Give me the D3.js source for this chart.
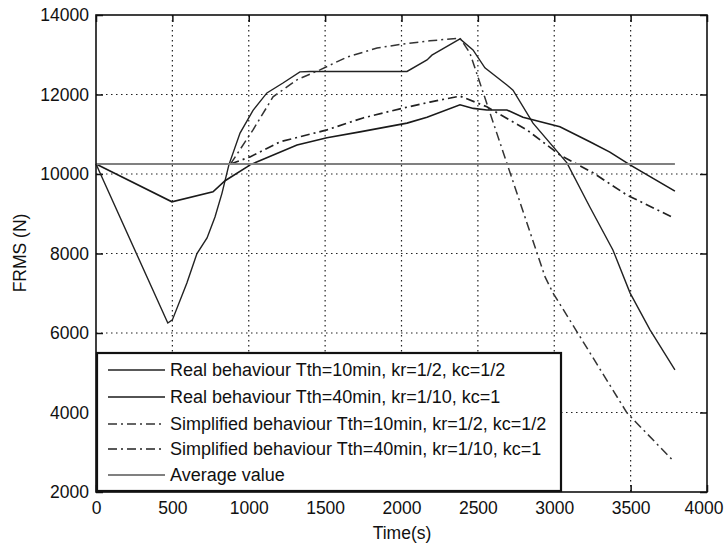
<!DOCTYPE html>
<html>
<head>
<meta charset="utf-8">
<script src="https://cdn.jsdelivr.net/npm/d3@7"></script>
<style>
  body { margin: 0; background: #fff; }
  svg { display: block; font-family: "Liberation Sans", Arial, sans-serif; }
</style>
</head>
<body>
<div id="chart"></div>
<script>
// time (s) and FRMS (N)
var timeReal10 = [0, 470, 500, 595, 661, 727, 779, 825, 870, 943, 1028, 1119, 1224, 1335, 1400, 2036, 2167, 2199, 2383, 2468, 2546, 2690, 2730, 2861, 3083, 3233, 3384, 3496, 3627, 3790];
var frmsReal10 = [10250, 6250, 6330, 7260, 8000, 8390, 8920, 9520, 10230, 11030, 11600, 12040, 12290, 12570, 12580, 12580, 12870, 12990, 13400, 13120, 12670, 12240, 12110, 11280, 10280, 9170, 8090, 7010, 6080, 5070];

var timeReal40 = [0, 497, 766, 845, 989, 1008, 1316, 1512, 1728, 2036, 2167, 2383, 2470, 2559, 2690, 2795, 3037, 3233, 3364, 3496, 3790];
var frmsReal40 = [10250, 9300, 9550, 9830, 10180, 10230, 10730, 10910, 11060, 11280, 11430, 11740, 11650, 11610, 11610, 11430, 11190, 10810, 10550, 10230, 9570];

var timeSimp10 = [880, 1028, 1159, 1316, 1466, 1643, 1840, 2010, 2186, 2383, 2448, 2940, 2992, 3149, 3476, 3780];
var frmsSimp10 = [10250, 11110, 11940, 12370, 12620, 12940, 13170, 13270, 13350, 13420, 13040, 7410, 7006, 6030, 3990, 2780];

var timeSimp40 = [880, 1008, 1205, 1512, 1748, 1990, 2186, 2383, 2559, 2821, 3037, 3254, 3476, 3780];
var frmsSimp40 = [10250, 10430, 10810, 11110, 11410, 11640, 11810, 11960, 11690, 11110, 10480, 10030, 9470, 8900];

var timeAvg = [0, 3790];
var frmsAvg = [10250, 10250];

var xTicks = [0, 500, 1000, 1500, 2000, 2500, 3000, 3500, 4000];
var yTicks = [2000, 4000, 6000, 8000, 10000, 12000, 14000];

var legendLabels = [
  "Real behaviour Tth=10min, kr=1/2, kc=1/2",
  "Real behaviour Tth=40min, kr=1/10, kc=1",
  "Simplified behaviour Tth=10min, kr=1/2, kc=1/2",
  "Simplified behaviour Tth=40min, kr=1/10, kc=1",
  "Average value"
];

var W = 724, H = 547;
var pL = 96, pR = 707, pT = 15, pB = 492;

var svg = d3.select("#chart").append("svg")
  .attr("width", W)
  .attr("height", H);

var x = d3.scaleLinear().domain([0, 4000]).range([pL, pR]);
var y = d3.scaleLinear().domain([2000, 14000]).range([pB, pT]);

// dotted grid
svg.append("g").selectAll("line")
  .data(xTicks.slice(1, -1))
  .enter().append("line")
  .attr("x1", function(d) { return x(d); })
  .attr("x2", function(d) { return x(d); })
  .attr("y1", pT).attr("y2", pB)
  .attr("stroke", "#222").attr("stroke-width", 1.2)
  .attr("stroke-dasharray", "1.5,3.5");

svg.append("g").selectAll("line")
  .data(yTicks.slice(1, -1))
  .enter().append("line")
  .attr("y1", function(d) { return y(d); })
  .attr("y2", function(d) { return y(d); })
  .attr("x1", pL).attr("x2", pR)
  .attr("stroke", "#222").attr("stroke-width", 1.2)
  .attr("stroke-dasharray", "1.5,3.5");

// axes with inner ticks
var axB = svg.append("g").attr("transform", "translate(0," + pB + ")")
  .call(d3.axisBottom(x).tickValues(xTicks).tickSize(-7).tickPadding(10).tickFormat(d3.format("d")));
var axT = svg.append("g").attr("transform", "translate(0," + pT + ")")
  .call(d3.axisTop(x).tickValues(xTicks).tickSize(-7).tickFormat(""));
var axL = svg.append("g").attr("transform", "translate(" + pL + ",0)")
  .call(d3.axisLeft(y).tickValues(yTicks).tickSize(-7).tickPadding(7).tickFormat(d3.format("d")));
var axR = svg.append("g").attr("transform", "translate(" + pR + ",0)")
  .call(d3.axisRight(y).tickValues(yTicks).tickSize(-7).tickFormat(""));

[axB, axT, axL, axR].forEach(function(a) {
  a.select(".domain").remove();
  a.selectAll(".tick line").attr("stroke", "#111").attr("stroke-width", 1.5);
  a.selectAll("text").attr("font-size", "17.5px").attr("fill", "#111")
    .attr("font-family", "'Liberation Sans', Arial, sans-serif");
});

// last x label sits against the page edge, as in the figure
axB.selectAll(".tick text")
  .filter(function(d) { return d === 4000; })
  .attr("text-anchor", "end").attr("x", 16);

// curves
var line = d3.line()
  .x(function(d) { return x(d[0]); })
  .y(function(d) { return y(d[1]); });

var series = [
  { t: timeReal10, v: frmsReal10, color: "#222", width: 1.4, dash: null },
  { t: timeReal40, v: frmsReal40, color: "#1a1a1a", width: 1.6, dash: null },
  { t: timeSimp10, v: frmsSimp10, color: "#333", width: 1.5, dash: "9,4,2,4" },
  { t: timeSimp40, v: frmsSimp40, color: "#222", width: 1.7, dash: "9,4,2,4" },
  { t: timeAvg, v: frmsAvg, color: "#808080", width: 2, dash: null }
];

svg.append("g").selectAll("path")
  .data(series)
  .enter().append("path")
  .attr("d", function(s) { return line(d3.zip(s.t, s.v)); })
  .attr("fill", "none")
  .attr("stroke", function(s) { return s.color; })
  .attr("stroke-width", function(s) { return s.width; })
  .attr("stroke-dasharray", function(s) { return s.dash; });

// plot frame
svg.append("rect")
  .attr("x", pL).attr("y", pT)
  .attr("width", pR - pL).attr("height", pB - pT)
  .attr("fill", "none").attr("stroke", "#111").attr("stroke-width", 1.6);

// axis titles
svg.append("text")
  .attr("x", (pL + pR) / 2 + 0.5).attr("y", 539)
  .attr("text-anchor", "middle")
  .attr("font-size", "17.5px").attr("fill", "#111")
  .text("Time(s)");

svg.append("text")
  .attr("transform", "translate(26," + 253 + ") rotate(-90)")
  .attr("text-anchor", "middle")
  .attr("font-size", "17.5px").attr("fill", "#111")
  .text("FRMS (N)");

// legend
var lg = svg.append("g");
lg.append("rect")
  .attr("x", 97).attr("y", 353)
  .attr("width", 464).attr("height", 138)
  .attr("fill", "#fff").attr("stroke", "#111").attr("stroke-width", 2.2);

var rowY = [370, 397, 424, 449, 475];

lg.selectAll("line")
  .data(series)
  .enter().append("line")
  .attr("x1", 108).attr("x2", 165)
  .attr("y1", function(d, i) { return rowY[i]; })
  .attr("y2", function(d, i) { return rowY[i]; })
  .attr("stroke", function(s) { return s.color; })
  .attr("stroke-width", function(s) { return s.width; })
  .attr("stroke-dasharray", function(s) { return s.dash; });

lg.selectAll("text")
  .data(legendLabels)
  .enter().append("text")
  .attr("x", 170)
  .attr("y", function(d, i) { return rowY[i]; })
  .attr("dy", "0.35em")
  .attr("font-size", "18px").attr("fill", "#111")
  .text(function(d) { return d; });
</script>
</body>
</html>
